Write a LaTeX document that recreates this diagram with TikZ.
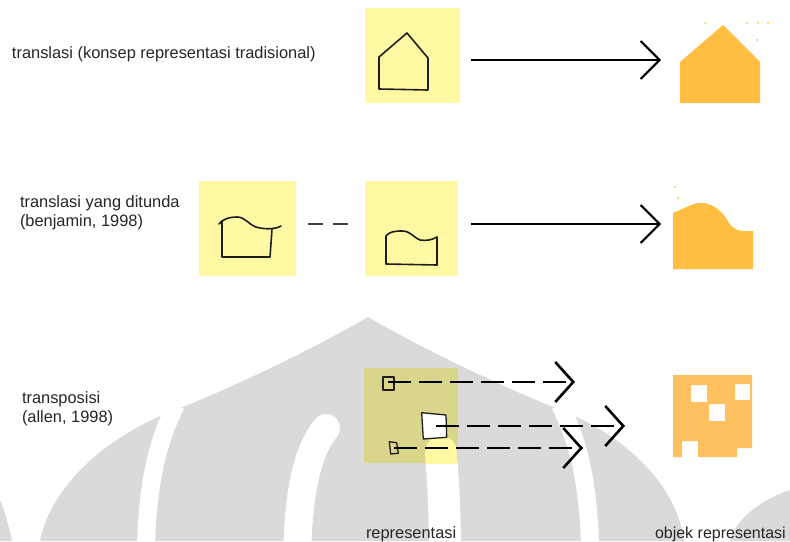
\documentclass[tikz,border=0pt]{standalone}
\usepackage{fontspec}
\setmainfont{Liberation Sans}
\usetikzlibrary{arrows.meta}
\definecolor{ylw}{RGB}{255,249,163}
\definecolor{olv}{RGB}{217,214,140}
\definecolor{org}{RGB}{255,190,66}
\definecolor{orgl}{RGB}{255,192,96}
\definecolor{wm}{RGB}{218,218,218}
\definecolor{ink}{RGB}{30,30,30}
\begin{document}
\begin{tikzpicture}[x=1pt,y=-1pt,
  repbox/.style={draw=none, inner sep=0pt, outer sep=0pt, minimum height=95pt},
  sketch/.style={draw=ink, line width=1.6pt, line join=round, line cap=round},
  arr/.style={draw=black, line width=2pt, -{Straight Barb[length=19pt,width=38pt]}},
  darr/.style={draw=black, line width=2.6pt, dash pattern=on 23pt off 8pt, -{Straight Barb[length=18pt,width=40pt]}},
  dashlink/.style={draw=black!75, line width=2.5pt, dash pattern=on 15pt off 10pt},
  lbl/.style={inner sep=0pt, outer sep=0pt, anchor=base west, align=left, text=black!85, font=\fontsize{16.4}{18.5}\selectfont}]
\useasboundingbox (0,0) rectangle (790,541);
\fill[white] (0,0) rectangle (790,541);

% watermark
\fill[wm] (40,541) .. controls (50,490) and (100,440) .. (170,412)
  .. controls (240,385) and (320,345) .. (368,317)
  .. controls (416,345) and (496,385) .. (566,412)
  .. controls (620,435) and (676,480) .. (684,541) -- cycle;
\fill[wm] (730,541) .. controls (735,520) and (760,500) .. (790,490) -- (790,541) -- cycle;
\fill[wm] (0,500) .. controls (6,515) and (10,530) .. (12,541) -- (0,541) -- cycle;
\draw[white, line width=18pt] (146,545) .. controls (148,480) and (158,440) .. (176,405);
\draw[white, line width=18pt] (590,545) .. controls (588,480) and (578,440) .. (560,405);
\draw[white, line width=28pt, line cap=round] (297,560) .. controls (298,490) and (308,450) .. (326,428);
\draw[white, line width=32pt, line cap=round] (445,560) .. controls (445,500) and (442,470) .. (441,452);

% row 1
\node[repbox, fill=ylw, minimum width=95pt] (r1) at (412.5,55.5) {};
\draw[sketch] (379,89) -- (379,57) -- (407,33) -- (428,58) -- (428,90) -- cycle;
\fill[org] (680,103) -- (680,62) -- (723,25) -- (760,62) -- (760,103) -- cycle;
\foreach \p in {(705,23),(747,23),(758,23),(768,23),(757,40),(675,187),(678,198)}
  \fill[org] \p circle (1);
\coordinate (o1) at (680,60);
\draw[arr, shorten <=11pt, shorten >=19pt] (r1.east |- o1) -- (o1);

% row 2
\node[repbox, fill=ylw, minimum width=97pt] (l2) at (247.5,228.5) {};
\node[repbox, fill=ylw, minimum width=93pt] (r2) at (411.5,228.5) {};
\draw[sketch] (222,221) -- (222,257) -- (270,257) -- (272,229);
\draw[sketch] (219,224) .. controls (222,220) and (228,217) .. (237,217)
  .. controls (245,217) and (248,224) .. (256,227)
  .. controls (262,229) and (274,230) .. (281,226);
\draw[sketch] (386,236) -- (386,264) -- (437,265) -- (437,237);
\draw[sketch] (386,236) .. controls (389,232) and (394,231) .. (402,231)
  .. controls (411,231) and (414,238) .. (420,240)
  .. controls (426,241) and (432,240) .. (437,237);
\fill[org] (673,269) -- (673,213) .. controls (685,208) and (695,202) .. (702,203)
  .. controls (712,203) and (720,210) .. (726,218)
  .. controls (730,226) and (736,231) .. (742,231) -- (753,231) -- (753,269) -- cycle;
\coordinate (o2) at (673,224);
\draw[dashlink, shorten <=12pt, shorten >=17pt] (l2.east |- o2) -- (r2.west |- o2);
\draw[arr, shorten <=13pt, shorten >=12pt] (r2.east |- o2) -- (o2);

% row 3
\node[repbox, fill=olv, minimum width=94pt] (r3) at (411,415.5) {};
\begin{scope}
  \clip (r3.north west) rectangle (r3.south east);
  \draw[ylw, line width=32pt, line cap=round] (445,560) .. controls (445,500) and (442,470) .. (441,452);
\end{scope}
\fill[orgl, even odd rule] (673,375) -- (752,375) -- (752,448) -- (737,448) -- (737,457)
  -- (698,457) -- (698,441) -- (682,441) -- (682,457) -- (673,457) -- cycle
  (691,385) rectangle (707,402) (735,384) rectangle (750,400) (709,404) rectangle (725,421);
\coordinate (s1) at (388,382);
\coordinate (s2) at (436,426);
\coordinate (s3) at (394,448);
\coordinate (e1) at (575,382);
\coordinate (e2) at (625,426);
\coordinate (e3) at (583,448);
\draw[sketch, line width=1.3pt] (383,377) -- (394,377) -- (394,390) -- (383,390) -- cycle;
\draw[sketch, line width=1.3pt, fill=white] (421.7,412.7) -- (446,415) -- (446.7,437.3) -- (423.3,439) -- cycle;
\draw[sketch, line width=1.3pt] (389.3,441.7) -- (396.7,442.7) -- (398.3,453.3) -- (390.7,454) -- cycle;
\draw[darr] (s1) -- (e1);
\draw[darr] (s2) -- (e2);
\draw[darr] (s3) -- (e3);

% labels
\node[lbl] (t1) at (12,58) {translasi (konsep representasi tradisional)};
\node[lbl] (t2) at (20,226) {translasi yang ditunda\\(benjamin, 1998)};
\node[lbl] (t3) at (22,422) {transposisi\\(allen, 1998)};
\node[lbl] (t4) at (366,538) {representasi};
\node[lbl, font=\fontsize{16}{18.5}\selectfont] (t5) at (655,538) {objek representasi};
\end{tikzpicture}
\end{document}
